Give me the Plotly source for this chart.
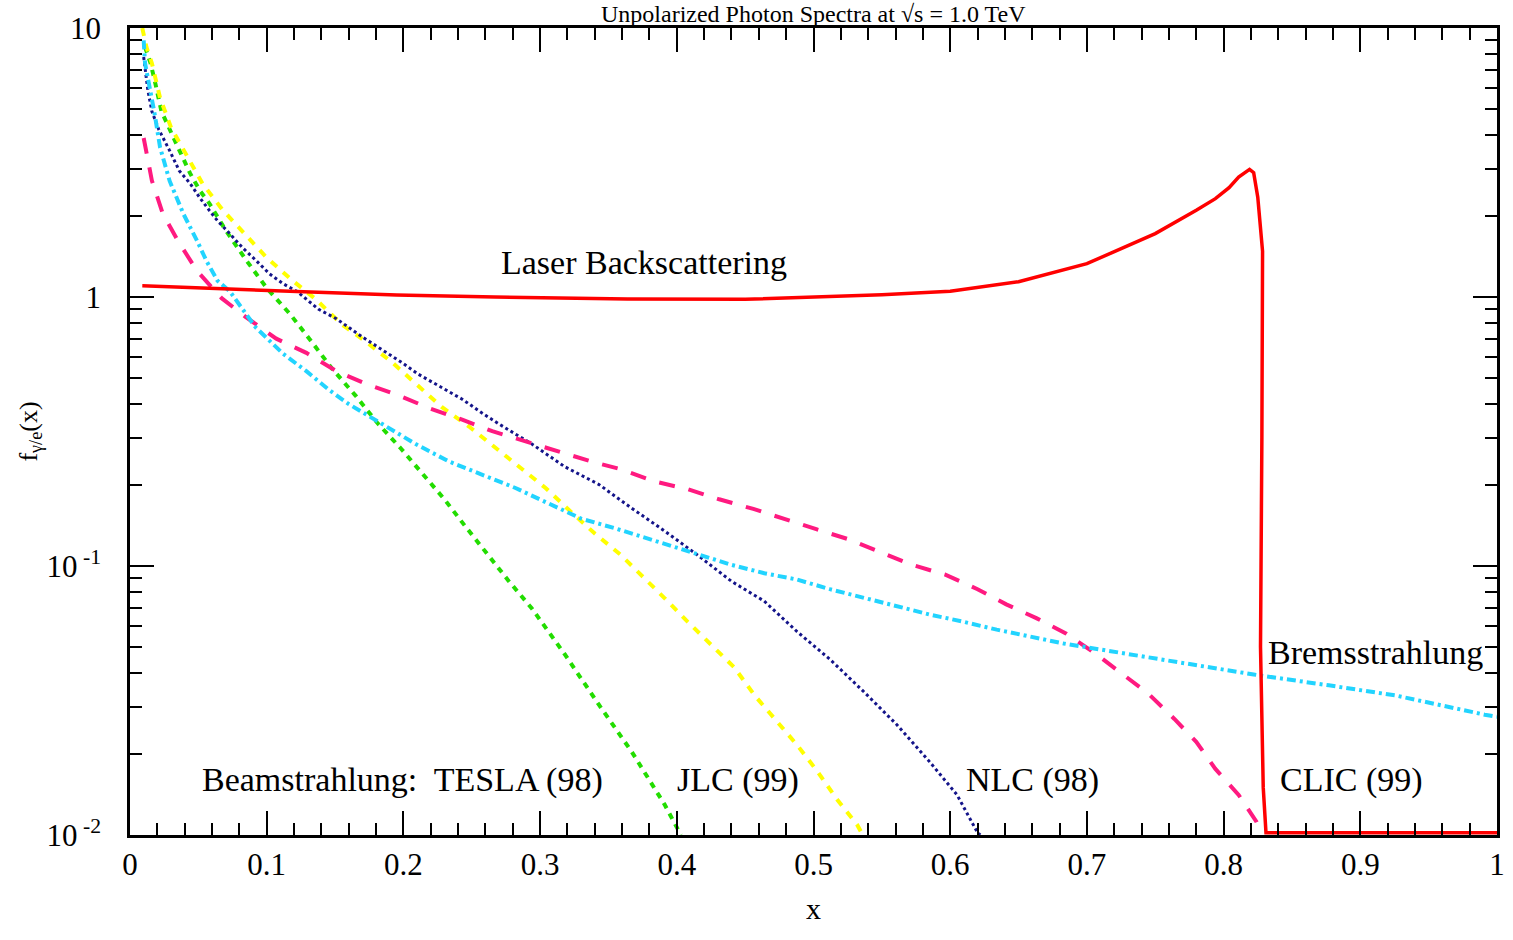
import math
import plotly.graph_objects as go

# ---- data ----
tesla_x = [0.011, 0.015, 0.018, 0.023, 0.034, 0.044, 0.051, 0.058, 0.070, 0.085, 0.100, 0.117, 0.133, 0.148,
           0.165, 0.181, 0.198, 0.214, 0.230, 0.245, 0.261, 0.277, 0.294, 0.318, 0.343, 0.367, 0.391, 0.403]
tesla_y = [8.5, 7.4, 6.4, 4.9, 3.7, 2.88, 2.49, 2.23, 1.77, 1.37, 1.08, 0.865, 0.68, 0.54,
           0.43, 0.34, 0.274, 0.22, 0.177, 0.141, 0.111, 0.088, 0.0695, 0.047, 0.0305, 0.0204, 0.013, 0.0100]

jlc_x = [0.009, 0.012, 0.016, 0.022, 0.030, 0.042, 0.053, 0.068, 0.084, 0.100, 0.119, 0.136, 0.155, 0.173,
         0.192, 0.210, 0.228, 0.248, 0.266, 0.286, 0.304, 0.322, 0.340, 0.359, 0.374, 0.391, 0.408, 0.425,
         0.442, 0.457, 0.474, 0.488, 0.503, 0.517, 0.532, 0.536]
jlc_y = [10.0, 8.5, 7.4, 5.5, 4.27, 3.3, 2.64, 2.1, 1.72, 1.40, 1.15, 0.98, 0.79, 0.68,
         0.57, 0.47, 0.39, 0.33, 0.279, 0.229, 0.195, 0.16, 0.132, 0.11, 0.093, 0.076, 0.062, 0.051,
         0.042, 0.033, 0.026, 0.0216, 0.0172, 0.0136, 0.0109, 0.0100]

nlc_x = [0.010, 0.013, 0.016, 0.021, 0.029, 0.036, 0.044, 0.051, 0.058, 0.064, 0.073, 0.082, 0.092, 0.102,
         0.112, 0.122, 0.138, 0.151, 0.170, 0.182, 0.199, 0.211, 0.224, 0.243, 0.257, 0.270, 0.294, 0.318,
         0.343, 0.367, 0.391, 0.415, 0.440, 0.464, 0.488, 0.512, 0.537, 0.561, 0.585, 0.605, 0.620, 0.622]
nlc_y = [7.8, 5.9, 4.9, 4.2, 3.5, 2.95, 2.64, 2.34, 2.1, 1.92, 1.72, 1.53, 1.37, 1.22,
         1.12, 1.05, 0.90, 0.83, 0.71, 0.65, 0.57, 0.516, 0.474, 0.417, 0.372, 0.337, 0.284, 0.234,
         0.201, 0.164, 0.135, 0.11, 0.0877, 0.074, 0.057, 0.045, 0.034, 0.0257, 0.0187, 0.0141, 0.0102, 0.0100]

clic_x = [0.010, 0.016, 0.024, 0.035, 0.049, 0.067, 0.085, 0.107, 0.129, 0.151, 0.173, 0.197, 0.219, 0.243,
          0.265, 0.289, 0.313, 0.337, 0.359, 0.384, 0.408, 0.431, 0.456, 0.479, 0.502, 0.525, 0.549, 0.572,
          0.596, 0.620, 0.641, 0.663, 0.685, 0.707, 0.725, 0.745, 0.764, 0.780, 0.794, 0.811, 0.824, 0.828]
clic_y = [3.9, 2.71, 2.04, 1.62, 1.25, 0.99, 0.84, 0.70, 0.62, 0.53, 0.475, 0.43, 0.386, 0.35,
          0.317, 0.291, 0.267, 0.245, 0.229, 0.206, 0.193, 0.177, 0.163, 0.149, 0.137, 0.126, 0.113, 0.101,
          0.093, 0.082, 0.072, 0.064, 0.056, 0.047, 0.040, 0.0335, 0.027, 0.0222, 0.0176, 0.0141, 0.0112, 0.0100]

brems_x = [0.010, 0.011, 0.018, 0.022, 0.029, 0.034, 0.039, 0.049, 0.056, 0.064, 0.073, 0.092, 0.112, 0.129,
           0.146, 0.160, 0.184, 0.209, 0.233, 0.257, 0.282, 0.306, 0.330, 0.355, 0.391, 0.415, 0.440, 0.464,
           0.488, 0.512, 0.537, 0.561, 0.585, 0.610, 0.634, 0.683, 0.731, 0.780, 0.822, 0.877, 0.926, 0.991, 1.0]
brems_y = [9.0, 7.4, 4.8, 3.6, 2.7, 2.34, 2.04, 1.62, 1.36, 1.15, 1.05, 0.77, 0.615, 0.53,
           0.45, 0.40, 0.337, 0.284, 0.245, 0.22, 0.195, 0.171, 0.15, 0.138, 0.121, 0.110, 0.101, 0.094,
           0.089, 0.082, 0.076, 0.071, 0.066, 0.062, 0.058, 0.0515, 0.047, 0.043, 0.0395, 0.036, 0.033, 0.028, 0.0275]

laser_x = [0.009, 0.029, 0.073, 0.122, 0.195, 0.267, 0.364, 0.45, 0.50, 0.55, 0.60, 0.65, 0.70, 0.75, 0.78,
           0.794, 0.804, 0.811, 0.819, 0.822, 0.825, 0.827, 0.8285, 0.828, 0.827, 0.829, 0.831, 1.0]
laser_y = [1.10, 1.09, 1.07, 1.045, 1.017, 1.0, 0.983, 0.98, 1.0, 1.02, 1.05, 1.14, 1.33, 1.72, 2.1,
           2.32, 2.55, 2.79, 2.98, 2.9, 2.35, 1.77, 1.48, 0.3, 0.05, 0.015, 0.0102, 0.0102]

x_tickvals = [0, 0.1, 0.2, 0.3, 0.4, 0.5, 0.6, 0.7, 0.8, 0.9, 1]
x_ticktext = ["0", "0.1", "0.2", "0.3", "0.4", "0.5", "0.6", "0.7", "0.8", "0.9", "1"]
y_tickvals = [0.01, 0.1, 1, 10]
y_ticktext = ["10<sup> -2</sup>", "10<sup> -1</sup>", "1", "10"]
y_minor = [m * d for d in (0.01, 0.1, 1) for m in range(2, 10)]

SERIF = "Liberation Serif"

fig = go.Figure()
fig.add_trace(go.Scatter(x=tesla_x, y=tesla_y, mode="lines",
                         line=dict(color="#22dd00", width=4, dash="6px,6px")))
fig.add_trace(go.Scatter(x=jlc_x, y=jlc_y, mode="lines",
                         line=dict(color="#ffff00", width=4, dash="8px,8px")))
fig.add_trace(go.Scatter(x=nlc_x, y=nlc_y, mode="lines",
                         line=dict(color="#14148a", width=3, dash="3px,3px")))
fig.add_trace(go.Scatter(x=clic_x, y=clic_y, mode="lines",
                         line=dict(color="#ff1a80", width=4, dash="16px,14px")))
fig.add_trace(go.Scatter(x=brems_x, y=brems_y, mode="lines",
                         line=dict(color="#22d4ff", width=4, dash="9px,4px,3px,4px")))
fig.add_trace(go.Scatter(x=laser_x, y=laser_y, mode="lines",
                         line=dict(color="#ff0000", width=3.5)))

ann_font = dict(family=SERIF, size=34, color="black")
annotations = [
    dict(x=0.376, y=1.13, text="Laser Backscattering", xanchor="center", yanchor="bottom"),
    dict(x=0.831, y=0.0475, text="Bremsstrahlung", xanchor="left", yanchor="middle"),
    dict(x=0.051, y=0.016, text="Beamstrahlung:  TESLA (98)", xanchor="left", yanchor="middle"),
    dict(x=0.399, y=0.016, text="JLC (99)", xanchor="left", yanchor="middle"),
    dict(x=0.610, y=0.016, text="NLC (98)", xanchor="left", yanchor="middle"),
    dict(x=0.840, y=0.016, text="CLIC (99)", xanchor="left", yanchor="middle"),
]
for a in annotations:
    a.update(xref="x", yref="y", showarrow=False, font=ann_font)
    a["y"] = math.log10(a["y"])

annotations.append(dict(xref="paper", yref="paper", x=0.5, y=1.0 + 14 / 807,
                        text="Unpolarized Photon Spectra at √s = 1.0 TeV",
                        showarrow=False, xanchor="center", yanchor="middle",
                        font=dict(family=SERIF, size=24, color="black")))

fig.update_layout(
    width=1513, height=940,
    margin=dict(l=130, r=8, t=28, b=105),
    paper_bgcolor="white", plot_bgcolor="white",
    showlegend=False,
    annotations=annotations,
    font=dict(family=SERIF, size=26, color="black"),
)
fig.update_xaxes(
    range=[0, 1], showgrid=False, zeroline=False,
    showline=True, linecolor="black", linewidth=2.5, mirror="allticks",
    ticks="inside", ticklen=24, tickwidth=2, tickcolor="black",
    tickvals=x_tickvals, ticktext=x_ticktext,
    tickfont=dict(family=SERIF, size=31),
    minor=dict(ticks="inside", ticklen=12, tickwidth=2, tickcolor="black", dtick=0.02, tick0=0, showgrid=False),
    title=dict(text="x", font=dict(family=SERIF, size=30), standoff=18),
)
fig.update_yaxes(
    type="log", range=[-2, 1], showgrid=False, zeroline=False,
    showline=True, linecolor="black", linewidth=2.5, mirror="allticks",
    ticks="inside", ticklen=24, tickwidth=2, tickcolor="black",
    tickvals=y_tickvals, ticktext=y_ticktext,
    tickfont=dict(family=SERIF, size=31),
    ticklabelstandoff=20,
    minor=dict(ticks="inside", ticklen=12, tickwidth=2, tickcolor="black", tickvals=y_minor, showgrid=False),
    title=dict(text="f<sub>γ/e</sub>(x)", font=dict(family=SERIF, size=26), standoff=2),
)

fig.write_html("out.html")
